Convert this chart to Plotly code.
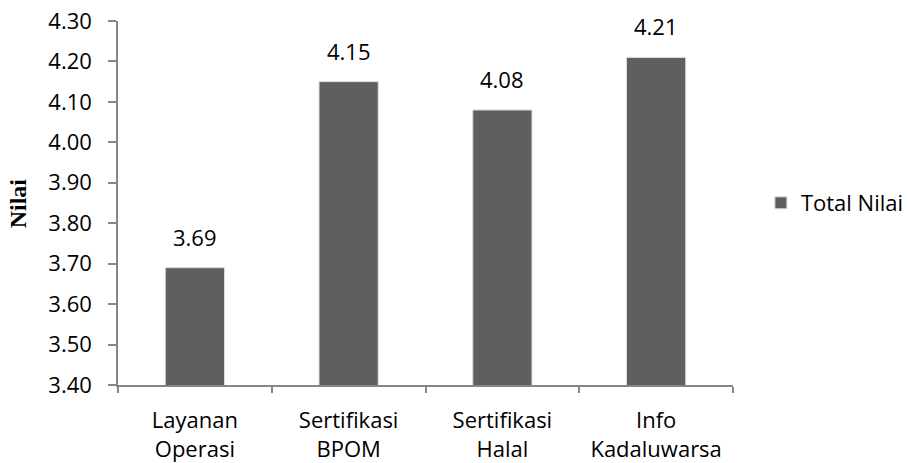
import plotly.graph_objects as go

# Rata-rata nilai per atribut
categories = ["Layanan<br>Operasi", "Sertifikasi<br>BPOM", "Sertifikasi<br>Halal", "Info<br>Kadaluwarsa"]
values = [3.69, 4.15, 4.08, 4.21]
series_name = "Total Nilai"
y_ticks = [3.40, 3.50, 3.60, 3.70, 3.80, 3.90, 4.00, 4.10, 4.20, 4.30]

FONT = "Open Sans"
FS = 22
BAR = "#5f5f5f"
AXIS = "#868686"

fig = go.Figure()
fig.add_trace(go.Bar(
    x=categories,
    y=values,
    name=series_name,
    marker=dict(color=BAR, line=dict(color="#dcdcdc", width=1)),
    showlegend=True,
))

# value labels above each bar
for c, v in zip(categories, values):
    fig.add_annotation(
        x=c, y=v, text=f"{v:.2f}", showarrow=False,
        yanchor="bottom", yshift=14,
        font=dict(family=FONT, size=FS, color="#000000"),
    )

# rotated axis title
fig.add_annotation(
    xref="paper", yref="paper", x=-0.162, y=0.5,
    text="<b>Nilai</b>", textangle=-90, showarrow=False,
    xanchor="center", yanchor="middle",
    font=dict(family="Liberation Serif", size=24, color="#000000"),
)

fig.update_layout(
    width=908, height=463,
    margin=dict(l=118, r=175, t=21, b=78, autoexpand=False),
    paper_bgcolor="white", plot_bgcolor="white",
    bargap=0.615,
    font=dict(family=FONT, size=FS, color="#000000"),
    legend=dict(
        xref="container", x=0.838, y=0.5, xanchor="left", yanchor="middle",
        font=dict(family=FONT, size=FS, color="#000000"),
        itemwidth=30,
    ),
)
fig.update_xaxes(
    showline=True, linecolor=AXIS, linewidth=1.5,
    ticks="outside", tickson="boundaries", ticklen=6, tickcolor=AXIS, tickwidth=1.5,
    showgrid=False, ticklabelstandoff=15,
    tickfont=dict(family=FONT, size=FS, color="#000000"),
)
fig.update_yaxes(
    range=[3.40, 4.30], tickvals=y_ticks, tickformat=".2f",
    showline=True, linecolor=AXIS, linewidth=1.5,
    ticks="outside", ticklen=8, tickcolor=AXIS, tickwidth=1.5,
    showgrid=False, zeroline=False, ticklabelstandoff=12,
    tickfont=dict(family=FONT, size=FS, color="#000000"),
)

fig.write_html("out.html")
